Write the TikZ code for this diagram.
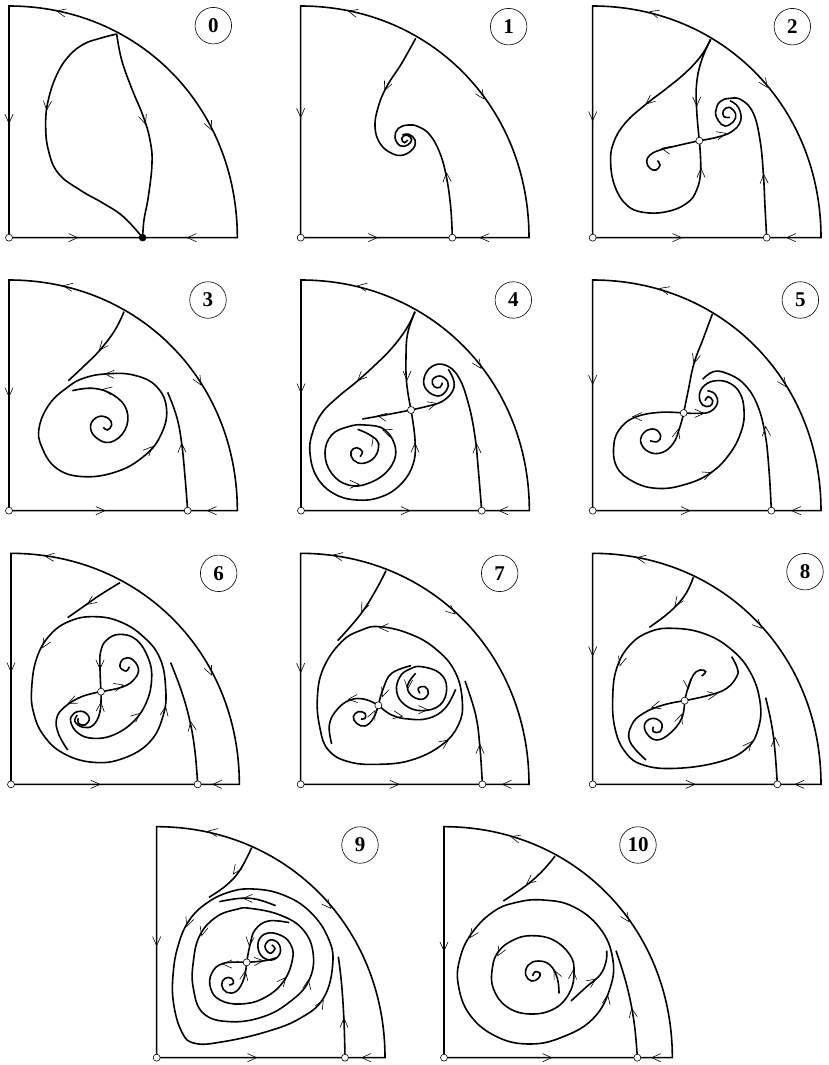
\documentclass[tikz,border=0pt]{standalone}
\usepackage{fontspec}
\setmainfont{Liberation Serif}
\usetikzlibrary{backgrounds}
\newcommand{\tipat}[3]{\draw[barb] (#1,#2) ++(#3+156:10pt) -- (#1,#2) -- +(#3-156:10pt);}
\newcommand{\frameat}[3]{\draw[orbit] (#1,#2) .. controls +(388,0) and +(0,{-0.567*(#3-#2)}) .. ({#1+685},#3) -- (#1,#3) -- cycle;}
\tikzset{
  panel/.style={x=0.33333pt,y=-0.33333pt},
  orbit/.style={line width=1.6pt,line join=miter,smooth,tension=0.7},
  barb/.style={line width=0.6pt},
  rest/.style={draw,circle,fill=white,line width=0.6pt,inner sep=0pt,minimum size=7pt},
  sink/.style={draw,circle,fill=black,inner sep=0pt,minimum size=7pt},
  tag/.style={draw,circle,line width=0.6pt,inner sep=0pt,minimum size=36.5pt,font=\fontsize{21}{21}\selectfont\bfseries},
}
\begin{document}
\begin{tikzpicture}
\useasboundingbox (0pt,0pt) rectangle (829pt,-1065pt);
% 0
\begin{scope}[panel,shift={(0pt,0pt)}]
  \node[rest] (a0) at (27,713) {};
  \node[sink] (b0) at (428,713) {};
  \coordinate (j0) at (350,102);
  \node[tag] (t0) at (640,77) {0};
  \begin{scope}[on background layer]
    \frameat{27}{18}{713}
    \draw[orbit] plot[smooth] coordinates {(j0) (300,115) (250,133) (205,170) (170,225) (145,300) (137,370) (145,450) (175,520) (240,570) (310,610) (370,650) (b0.center)};
    \draw[orbit] plot[smooth] coordinates {(j0) (365,180) (395,265) (430,350) (450,420) (456,490) (445,590) (432,660) (b0.center)};
  \end{scope}
  \tipat{170}{33}{168} \tipat{27}{370}{-90} \tipat{635}{390}{-65}
  \tipat{233}{713}{0} \tipat{562}{713}{180}
  \tipat{140}{330}{-95} \tipat{436}{372}{-72}
\end{scope}
% 1
\begin{scope}[panel,shift={(285pt,0pt)}]
  \node[rest] (a1) at (47,713) {};
  \node[rest] (b1) at (502,713) {};
  \coordinate (j1) at (392,115);
  \node[tag] (t1) at (671,80) {1};
  \begin{scope}[on background layer]
    \frameat{47}{18}{713}
    \draw[orbit] plot[smooth] coordinates {(j1) (350,190) (305,260) (280,320) (270,380) (285,430) (320,460) (355,465) (385,445) (390,420) (372,403) (352,405)};
    \draw[orbit] plot[smooth] coordinates {(b1.center) (497,620) (484,530) (465,460) (435,405) (400,380) (370,375) (340,385) (330,412) (345,437) (368,435) (380,418) (365,405) (350,415) (358,428) (368,420)};
  \end{scope}
  \tipat{190}{33}{165} \tipat{47}{352}{-90} \tipat{597}{297}{-55}
  \tipat{277}{713}{0} \tipat{585}{713}{180}
  \tipat{298}{272}{-115} \tipat{484}{518}{95}
\end{scope}
% 2
\begin{scope}[panel,shift={(570pt,0pt)}]
  \node[rest] (a2) at (68,713) {};
  \node[rest] (b2) at (590,713) {};
  \node[rest] (s2) at (388,422) {};
  \coordinate (j2) at (422,118);
  \node[tag] (t2) at (667,80) {2};
  \begin{scope}[on background layer]
    \frameat{68}{18}{713}
    \draw[orbit] plot[smooth] coordinates {(j2) (395,165) (350,215) (290,265) (225,315) (165,370) (130,430) (122,490) (135,560) (170,615) (220,637) (290,635) (350,610) (380,570) (392,510) (s2.center)};
    \draw[orbit] plot[smooth] coordinates {(j2) (395,180) (380,250) (380,330) (s2.center)};
    \draw[orbit] plot[smooth] coordinates {(s2.center) (330,435) (270,450) (240,465) (230,485) (240,505) (258,510) (270,495) (262,482)};
    \draw[orbit] plot[smooth] coordinates {(s2.center) (440,412) (485,395) (512,362) (505,322) (480,302)};
    \draw[orbit] plot[smooth] coordinates {(b2.center) (585,620) (580,520) (570,420) (550,340) (515,300) (480,295) (450,305) (437,335) (445,362) (465,378) (490,365) (497,342) (478,322) (460,332) (462,350) (480,352)};
  \end{scope}
  \tipat{240}{35}{165} \tipat{68}{362}{-90} \tipat{592}{262}{-55}
  \tipat{335}{713}{0} \tipat{650}{713}{180}
  \tipat{228}{312}{-140} \tipat{380}{318}{-90} \tipat{275}{445}{168}
  \tipat{468}{400}{15} \tipat{393}{505}{90} \tipat{581}{523}{93}
\end{scope}
% 3
\begin{scope}[panel,shift={(0pt,-270pt)}]
  \node[rest] (a3) at (27,722) {};
  \node[rest] (b3) at (563,722) {};
  \coordinate (j3) at (372,125);
  \node[tag] (t3) at (624,90) {3};
  \begin{scope}[on background layer]
    \frameat{27}{30}{722}
    \draw[orbit] plot[smooth] coordinates {(j3) (345,180) (300,240) (250,290) (205,332)};
    \draw[orbit] plot[smooth] coordinates {(b3.center) (555,620) (545,520) (530,440) (503,367)};
    \draw[orbit] plot[smooth cycle] coordinates {(315,312) (400,315) (470,350) (500,420) (480,500) (430,560) (350,605) (250,620) (170,595) (125,530) (118,470) (150,400) (205,350) (250,325)};
    \draw[orbit] plot[smooth] coordinates {(217,362) (280,355) (340,375) (380,420) (375,480) (330,517) (285,500) (272,465) (295,440) (325,445) (335,465) (322,480) (310,472)};
  \end{scope}
  \tipat{190}{47}{170} \tipat{27}{380}{-90} \tipat{603}{345}{-60}
  \tipat{315}{722}{0} \tipat{622}{722}{180}
  \tipat{298}{240}{-130} \tipat{315}{312}{178} \tipat{308}{358}{170}
  \tipat{457}{530}{45} \tipat{545}{520}{92}
\end{scope}
% 4
\begin{scope}[panel,shift={(285pt,-270pt)}]
  \node[rest] (a4) at (48,722) {};
  \node[rest] (b4) at (590,722) {};
  \node[rest] (s4) at (378,420) {};
  \coordinate (j4) at (390,125);
  \node[tag] (t4) at (685,90) {4};
  \begin{scope}[on background layer]
    \frameat{48}{30}{722}
    \draw[orbit] plot[smooth] coordinates {(j4) (365,175) (320,235) (265,290) (215,335) (160,380) (110,430) (82,490) (75,550) (95,620) (145,670) (215,690) (290,680) (350,640) (385,580) (390,510) (s4.center)};
    \draw[orbit] plot[smooth] coordinates {(j4) (368,190) (363,260) (365,340) (s4.center)};
    \draw[orbit] plot[smooth] coordinates {(s4.center) (300,435) (232,447)};
    \draw[orbit] plot[smooth] coordinates {(s4.center) (430,408) (470,395) (500,368) (507,335) (490,298)};
    \draw[orbit] plot[smooth] coordinates {(b4.center) (580,600) (570,500) (550,400) (520,320) (480,285) (440,290) (417,325) (425,360) (460,378) (485,360) (488,335) (465,318) (442,330) (448,350) (465,352) (472,338)};
    \draw[orbit] plot[smooth cycle] coordinates {(240,465) (300,480) (332,540) (310,600) (250,640) (190,645) (140,610) (120,550) (140,495) (190,470)};
    \draw[orbit] plot[smooth] coordinates {(218,478) (255,495) (280,520) (270,560) (235,580) (205,570) (198,545) (215,533) (232,545) (225,560)};
  \end{scope}
  \tipat{218}{47}{170} \tipat{48}{368}{-90} \tipat{588}{295}{-55}
  \tipat{375}{722}{0} \tipat{642}{722}{180}
  \tipat{218}{332}{-135} \tipat{366}{330}{-90} \tipat{278}{437}{170}
  \tipat{455}{400}{15} \tipat{390}{520}{90} \tipat{575}{522}{92}
  \tipat{293}{480}{160} \tipat{222}{643}{0} \tipat{265}{500}{105}
\end{scope}
% 5
\begin{scope}[panel,shift={(570pt,-270pt)}]
  \node[rest] (a5) at (68,722) {};
  \node[rest] (b5) at (604,722) {};
  \node[rest] (s5) at (341,429) {};
  \coordinate (j5) at (427,132);
  \node[tag] (t5) at (691,90) {5};
  \begin{scope}[on background layer]
    \frameat{68}{30}{722}
    \draw[orbit] plot[smooth] coordinates {(j5) (400,205) (372,280) (355,360) (s5.center)};
    \draw[orbit] plot[smooth] coordinates {(s5.center) (270,427) (200,440) (155,470) (132,520) (140,590) (190,635) (260,655) (340,645) (420,610) (480,550) (515,480) (522,420) (510,370) (480,340) (440,332) (405,345) (388,375) (398,405) (420,408) (428,392) (415,380) (405,392)};
    \draw[orbit] plot[smooth] coordinates {(s5.center) (385,430) (420,425) (442,400) (435,372) (412,362)};
    \draw[orbit] plot[smooth] coordinates {(s5.center) (330,470) (310,520) (275,548) (235,545) (212,515) (225,485) (255,478) (272,498) (262,515) (240,512)};
    \draw[orbit] plot[smooth] coordinates {(b5.center) (597,600) (585,490) (560,400) (520,340) (470,310) (430,305) (398,328)};
  \end{scope}
  \tipat{270}{55}{165} \tipat{68}{343}{-90} \tipat{648}{350}{-55}
  \tipat{360}{722}{0} \tipat{665}{722}{180}
  \tipat{372}{280}{-105} \tipat{188}{440}{180} \tipat{402}{430}{0}
  \tipat{325}{478}{75} \tipat{425}{608}{20} \tipat{587}{470}{95}
\end{scope}
% 6
\begin{scope}[panel,shift={(0pt,-545pt)}]
  \node[rest] (a6) at (33,718) {};
  \node[rest] (b6) at (593,718) {};
  \node[rest] (s6) at (303,440) {};
  \coordinate (j6) at (360,113);
  \node[tag] (t6) at (656,85) {6};
  \begin{scope}[on background layer]
    \frameat{33}{25}{718}
    \draw[orbit] plot[smooth] coordinates {(j6) (300,150) (250,185) (203,218)};
    \draw[orbit] plot[smooth] coordinates {(b6.center) (585,620) (570,530) (545,440) (512,353)};
    \draw[orbit] plot[smooth cycle] coordinates {(283,215) (360,230) (430,275) (480,340) (497,430) (490,510) (450,590) (370,640) (280,652) (190,625) (130,570) (100,500) (95,430) (110,340) (150,270) (210,228)};
    \draw[orbit] plot[smooth] coordinates {(s6.center) (300,370) (302,320) (320,285) (360,268) (410,285) (445,340) (455,400) (440,470) (400,530) (340,570) (280,580) (235,565) (212,530) (222,505) (250,500) (268,520) (255,540) (235,535) (235,520)};
    \draw[orbit] plot[smooth] coordinates {(s6.center) (245,455) (195,485) (170,520) (175,565) (203,615)};
    \draw[orbit] plot[smooth] coordinates {(s6.center) (300,500) (280,540) (250,547) (225,530) (232,510)};
    \draw[orbit] plot[smooth] coordinates {(s6.center) (370,425) (405,400) (415,370) (395,342) (370,342) (360,365) (378,378) (388,365)};
  \end{scope}
  \tipat{135}{33}{172} \tipat{33}{380}{-90} \tipat{635}{390}{-65}
  \tipat{300}{718}{0} \tipat{638}{718}{180}
  \tipat{262}{178}{-145} \tipat{128}{308}{-120} \tipat{497}{485}{80}
  \tipat{300}{372}{-90} \tipat{205}{475}{205} \tipat{370}{420}{15}
  \tipat{303}{472}{85} \tipat{420}{505}{40} \tipat{572}{530}{100}
\end{scope}
% 7
\begin{scope}[panel,shift={(285pt,-545pt)}]
  \node[rest] (a7) at (47,718) {};
  \node[rest] (b7) at (592,718) {};
  \node[rest] (s7) at (280,481) {};
  \coordinate (j7) at (303,77);
  \node[tag] (t7) at (644,85) {7};
  \begin{scope}[on background layer]
    \frameat{47}{25}{718}
    \draw[orbit] plot[smooth] coordinates {(j7) (270,140) (225,210) (158,287)};
    \draw[orbit] plot[smooth] coordinates {(b7.center) (585,610) (572,510) (540,408)};
    \draw[orbit] plot[smooth cycle] coordinates {(283,245) (370,265) (450,310) (510,380) (532,470) (520,540) (470,600) (380,645) (280,658) (190,650) (130,615) (105,550) (97,460) (115,370) (170,290) (230,255)};
    \draw[orbit] plot[smooth] coordinates {(s7.center) (240,463) (195,465) (155,495) (133,540) (140,597)};
    \draw[orbit] plot[smooth] coordinates {(s7.center) (320,510) (370,522) (430,520) (480,490) (512,433)};
    \draw[orbit] plot[smooth] coordinates {(s7.center) (295,430) (320,385) (378,362)};
    \draw[orbit] plot[smooth cycle] coordinates {(410,365) (465,385) (485,430) (465,480) (410,497) (360,480) (335,440) (345,395) (375,372)};
    \draw[orbit] plot[smooth] coordinates {(392,385) (368,420) (378,450) (410,463) (430,445) (420,425) (400,430) (405,445)};
    \draw[orbit] plot[smooth] coordinates {(s7.center) (265,520) (240,543) (215,535) (205,515) (220,500) (240,505) (240,520) (228,522)};
  \end{scope}
  \tipat{145}{30}{170} \tipat{47}{382}{-90} \tipat{510}{207}{-40}
  \tipat{342}{718}{0} \tipat{652}{718}{180}
  \tipat{230}{200}{-115} \tipat{283}{248}{180} \tipat{490}{585}{35}
  \tipat{190}{463}{185} \tipat{292}{455}{-110} \tipat{352}{514}{-10}
  \tipat{270}{497}{65} \tipat{428}{494}{0} \tipat{368}{432}{-95} \tipat{585}{598}{90}
\end{scope}
% 8
\begin{scope}[panel,shift={(570pt,-545pt)}]
  \node[rest] (a8) at (68,718) {};
  \node[rest] (b8) at (622,718) {};
  \node[rest] (s8) at (344,467) {};
  \coordinate (j8) at (370,97);
  \node[tag] (t8) at (705,80) {8};
  \begin{scope}[on background layer]
    \frameat{68}{25}{718}
    \draw[orbit] plot[smooth] coordinates {(j8) (345,150) (300,200) (238,247)};
    \draw[orbit] plot[smooth] coordinates {(b8.center) (615,620) (605,540) (587,458)};
    \draw[orbit] plot[smooth cycle] coordinates {(310,250) (400,265) (480,310) (540,380) (570,470) (565,550) (530,610) (450,650) (320,670) (220,660) (165,620) (135,550) (128,460) (140,370) (180,300) (240,260)};
    \draw[orbit] plot[smooth] coordinates {(s8.center) (420,450) (470,430) (500,395) (502,370) (485,335)};
    \draw[orbit] plot[smooth] coordinates {(s8.center) (355,425) (370,390) (390,375) (407,380) (395,393)};
    \draw[orbit] plot[smooth] coordinates {(s8.center) (280,480) (220,505) (185,540) (180,590) (228,645)};
    \draw[orbit] plot[smooth] coordinates {(s8.center) (335,520) (300,565) (260,585) (230,565) (225,535) (250,520) (275,535) (270,560) (250,560) (250,545)};
  \end{scope}
  \tipat{200}{38}{170} \tipat{68}{332}{-90} \tipat{575}{250}{-45}
  \tipat{375}{718}{0} \tipat{675}{718}{180}
  \tipat{315}{183}{-125} \tipat{150}{362}{-105} \tipat{545}{590}{50}
  \tipat{355}{432}{-85} \tipat{245}{487}{195} \tipat{440}{447}{10}
  \tipat{335}{508}{70} \tipat{615}{577}{92}
\end{scope}
% 9
\begin{scope}[panel,shift={(140pt,-815pt)}]
  \node[rest] (a9) at (50,728) {};
  \node[rest] (b9) at (615,728) {};
  \node[rest] (s9) at (320,442) {};
  \coordinate (j9) at (335,98);
  \node[tag] (t9) at (660,90) {9};
  \begin{scope}[on background layer]
    \frameat{50}{35}{728}
    \draw[orbit] plot[smooth] coordinates {(j9) (300,165) (260,210) (207,247)};
    \draw[orbit] plot[smooth] coordinates {(b9.center) (612,620) (605,510) (595,425)};
    \draw[orbit] plot[smooth cycle] coordinates {(340,222) (430,240) (510,290) (565,370) (578,450) (550,550) (480,610) (380,650) (250,680) (165,685) (125,650) (100,560) (100,470) (115,390) (145,320) (195,268) (265,232)};
    \draw[orbit] plot[smooth] coordinates {(238,260) (300,250) (350,253) (407,272)};
    \draw[orbit] plot[smooth cycle] coordinates {(330,280) (420,300) (490,345) (520,420) (505,500) (450,560) (370,605) (270,620) (190,595) (160,520) (160,440) (180,360) (230,305) (290,283)};
    \draw[orbit] plot[smooth] coordinates {(s9.center) (330,390) (345,345) (385,318) (448,323)};
    \draw[orbit] plot[smooth] coordinates {(s9.center) (250,445) (215,475) (212,520) (240,555) (300,567) (370,550) (430,500) (458,430) (450,385) (420,360) (380,355) (355,380) (362,420) (395,435) (420,415) (415,385) (390,375) (375,395) (390,415) (405,400) (395,390)};
    \draw[orbit] plot[smooth] coordinates {(s9.center) (375,437) (410,428)};
    \draw[orbit] plot[smooth] coordinates {(s9.center) (312,490) (290,528) (260,532) (245,510) (255,490) (275,490) (280,505) (268,510)};
  \end{scope}
  \tipat{205}{48}{170} \tipat{50}{392}{-90} \tipat{572}{280}{-50}
  \tipat{350}{728}{0} \tipat{665}{728}{180}
  \tipat{280}{177}{-125} \tipat{140}{335}{-110} \tipat{185}{362}{-105}
  \tipat{310}{250}{180} \tipat{505}{495}{80} \tipat{550}{555}{60}
  \tipat{328}{393}{-95} \tipat{248}{447}{180} \tipat{370}{437}{5}
  \tipat{316}{468}{80} \tipat{438}{487}{50} \tipat{612}{610}{90}
\end{scope}
% 10
\begin{scope}[panel,shift={(430pt,-815pt)}]
  \node[rest] (a10) at (42,728) {};
  \node[rest] (b10) at (622,728) {};
  \coordinate (j10) at (375,123);
  \node[tag] (t10) at (624,90) {10};
  \begin{scope}[on background layer]
    \frameat{42}{35}{728}
    \draw[orbit] plot[smooth] coordinates {(j10) (340,165) (290,210) (220,258)};
    \draw[orbit] plot[smooth] coordinates {(b10.center) (612,620) (590,510) (558,407)};
    \draw[orbit] plot[smooth cycle] coordinates {(340,255) (430,275) (510,340) (548,430) (540,520) (490,610) (400,665) (300,687) (200,665) (120,600) (85,510) (90,430) (125,355) (190,290) (260,262)};
    \draw[orbit] plot[smooth cycle] coordinates {(305,362) (370,375) (420,420) (432,470) (420,530) (375,580) (300,597) (230,575) (190,520) (187,460) (205,410) (250,375)};
    \draw[orbit] plot[smooth] coordinates {(387,535) (382,490) (360,450) (325,438) (295,450) (287,480) (305,498) (325,490) (330,475) (315,470) (308,483)};
    \draw[orbit] plot[smooth] coordinates {(423,558) (470,515) (510,480) (528,440) (530,407)};
  \end{scope}
  \tipat{243}{65}{165} \tipat{42}{408}{-90} \tipat{597}{320}{-55}
  \tipat{365}{728}{0} \tipat{665}{728}{180}
  \tipat{290}{207}{-140} \tipat{120}{368}{-125} \tipat{533}{540}{80}
  \tipat{203}{422}{-120} \tipat{430}{465}{85} \tipat{497}{492}{35}
  \tipat{372}{465}{115} \tipat{605}{580}{100}
\end{scope}
\end{tikzpicture}
\end{document}
